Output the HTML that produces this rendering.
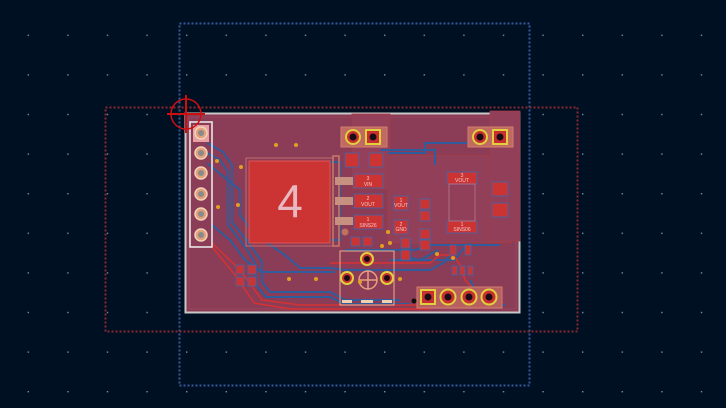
<!DOCTYPE html>
<html><head><style>html,body{margin:0;padding:0;background:#001023;}svg{display:block}</style></head>
<body>
<svg width="726" height="408" viewBox="0 0 726 408" xmlns="http://www.w3.org/2000/svg" font-family="Liberation Sans, sans-serif">
<defs>
<pattern id="g" width="39.6" height="39.6" patternUnits="userSpaceOnUse" x="-12" y="-5">
<rect x="0" y="0" width="1.4" height="1.4" fill="#7f8a99"/>
</pattern>
</defs>
<rect width="726" height="408" fill="#001023"/>
<rect width="726" height="408" fill="url(#g)"/>
<rect x="179.5" y="23.5" width="350" height="362" fill="none" stroke="#35599a" stroke-width="2" stroke-dasharray="2 2"/>
<rect x="105.5" y="107.5" width="472" height="224" fill="none" stroke="#8a2830" stroke-width="2" stroke-dasharray="2 2"/>
<rect x="185.5" y="113.5" width="334" height="199" fill="#8a3b55" stroke="#c8c8c8" stroke-width="2"/>
<rect x="189" y="117" width="327" height="192" fill="#8b3c56" stroke="#9a4660" stroke-width="1"/>
<rect x="352" y="114" width="38" height="75" fill="#94405a" stroke="#a63a44" stroke-width="0.8"/>
<rect x="388" y="155" width="123" height="88" fill="#92405a" stroke="#a63a44" stroke-width="0.8"/>
<rect x="490" y="111" width="30" height="130" fill="#92405a" stroke="#a63a44" stroke-width="0.8"/>
<g fill="none" stroke="#2e5c9c" stroke-width="2">
<polyline points="207,143 223,152 232,165 232,222 250,245 262,262 262,282 270,292 330,292 345,300 400,300"/>
<polyline points="207,153 220,160 228,172 228,225 246,248 256,265 256,285 266,297 330,297 345,304 410,304"/>
<polyline points="207,163 240,190 240,215 255,235 285,255 300,268 330,268 345,270 430,270 445,262 450,255"/>
<polyline points="212,225 230,240 245,260 262,272 335,272"/>
<polyline points="380,150 435,150 435,165"/>
<polyline points="388,153 425,153 425,143 468,143 480,143"/>
<polyline points="390,260 455,260 462,250 470,243"/>
<polyline points="410,240 410,258 420,260 438,250"/>
<polyline points="330,162 340,162 340,240 245,240"/>
<polyline points="470,280 478,296 490,305 505,305"/>
<polyline points="345,250 415,250 430,245 500,245"/>
</g>
<g fill="none" stroke="#d63232" stroke-width="1.5">
<polyline points="212,243 240,270 262,300 300,305 420,305"/>
<polyline points="212,247 236,276 254,303 290,309 430,309"/>
<polyline points="330,263 430,263 440,255 455,255"/>
<polyline points="455,257 460,265 465,280 475,290"/>
</g>
<rect x="190" y="122" width="22" height="125" fill="none" stroke="#f0f0f0" stroke-width="1.5"/>
<rect x="193" y="125" width="16" height="17" fill="#e8a0a0"/>
<g fill="#e3a07a" stroke="#f2d2b8" stroke-width="1.5">
<circle cx="201" cy="133" r="6"/><circle cx="201" cy="153" r="6"/><circle cx="201" cy="173" r="6"/><circle cx="201" cy="194" r="6"/><circle cx="201" cy="214" r="6"/><circle cx="201" cy="235" r="6"/>
</g>
<g fill="#8a8a8a"><circle cx="201" cy="133" r="3"/><circle cx="201" cy="153" r="3"/><circle cx="201" cy="173" r="3"/><circle cx="201" cy="194" r="3"/><circle cx="201" cy="214" r="3"/><circle cx="201" cy="235" r="3"/></g>
<rect x="249" y="161" width="81" height="82" fill="#cc3333" stroke="#e05555" stroke-width="1"/>
<rect x="246" y="158" width="87" height="88" fill="none" stroke="#c07070" stroke-width="1"/>
<text x="290" y="217" font-size="46" fill="#e8b8c0" text-anchor="middle">4</text>
<rect x="333" y="156" width="6" height="90" fill="none" stroke="#c87a6a" stroke-width="1.5"/>
<g fill="#c89080"><rect x="335" y="177" width="18" height="8"/><rect x="335" y="197" width="18" height="8"/><rect x="335" y="217" width="18" height="8"/></g>
<g fill="#cc3333" stroke="#3a6ab0" stroke-width="0.8">
<rect x="354" y="174" width="29" height="14"/><rect x="354" y="194" width="29" height="14"/><rect x="354" y="215" width="29" height="14"/>
<rect x="345" y="153" width="14" height="14"/><rect x="369" y="153" width="14" height="14"/>
<rect x="394" y="196" width="14" height="14"/><rect x="394" y="220" width="14" height="14"/>
<rect x="447" y="172" width="30" height="12"/><rect x="447" y="221" width="30" height="12"/>
<rect x="492" y="182" width="16" height="14"/><rect x="492" y="203" width="16" height="14"/>
<rect x="420" y="199" width="10" height="10"/><rect x="420" y="211" width="10" height="10"/><rect x="420" y="229" width="10" height="10"/><rect x="420" y="240" width="10" height="10"/>
<rect x="401" y="238" width="9" height="10"/><rect x="401" y="250" width="9" height="10"/>
<rect x="351" y="237" width="9" height="9"/><rect x="363" y="237" width="9" height="9"/>
<rect x="236" y="265" width="8" height="9"/><rect x="248" y="265" width="8" height="9"/><rect x="236" y="277" width="8" height="9"/><rect x="248" y="277" width="8" height="9"/>
<rect x="450" y="245" width="6" height="10"/><rect x="465" y="245" width="6" height="10"/><rect x="452" y="266" width="5" height="9"/><rect x="460" y="266" width="5" height="9"/><rect x="468" y="266" width="5" height="9"/>
</g>
<g fill="#f0c8c8" font-size="5" text-anchor="middle">
<text x="368" y="180">3</text><text x="368" y="186">VIN</text>
<text x="368" y="200">2</text><text x="368" y="206">VOUT</text>
<text x="368" y="221">1</text><text x="368" y="227">SINS26</text>
<text x="401" y="202">1</text><text x="401" y="207">VOUT</text>
<text x="401" y="226">2</text><text x="401" y="231">GND</text>
<text x="462" y="177">3</text><text x="462" y="182">VOUT</text>
<text x="462" y="226">1</text><text x="462" y="231">SINS06</text>
</g>
<rect x="449" y="184" width="26" height="37" fill="none" stroke="#b87890" stroke-width="0.8"/>
<rect x="341" y="127" width="46" height="20" fill="#c06a60" stroke="#d08070"/>
<rect x="468" y="127" width="45" height="20" fill="#c06a60" stroke="#d08070"/>
<rect x="417" y="287" width="85" height="21" fill="#b86060" stroke="#d08070"/>
<g stroke="#e0d040" stroke-width="2" fill="#c83030">
<circle cx="353" cy="137" r="7"/><circle cx="480" cy="137" r="7"/>
<circle cx="448" cy="297" r="7.5"/><circle cx="469" cy="297" r="7.5"/><circle cx="489" cy="297" r="7.5"/>
<circle cx="367" cy="259" r="6"/><circle cx="347" cy="278" r="6"/><circle cx="387" cy="278" r="6"/>
</g>
<g stroke="#e0d040" stroke-width="2" fill="#c83030"><rect x="366" y="130" width="14" height="14"/><rect x="493" y="130" width="14" height="14"/><rect x="421" y="290" width="14" height="14"/></g>
<g fill="#1a0d18"><circle cx="353" cy="137" r="3.5"/><circle cx="373" cy="137" r="3.5"/><circle cx="480" cy="137" r="3.5"/><circle cx="500" cy="137" r="3.5"/><circle cx="428" cy="297" r="3.5"/><circle cx="448" cy="297" r="3.5"/><circle cx="469" cy="297" r="3.5"/><circle cx="489" cy="297" r="3.5"/><circle cx="367" cy="259" r="3"/><circle cx="347" cy="278" r="3"/><circle cx="387" cy="278" r="3"/></g>
<rect x="340" y="251" width="54" height="54" fill="none" stroke="#e8b090" stroke-width="1"/>
<circle cx="368" cy="280" r="9" fill="none" stroke="#e8a080" stroke-width="1.5"/>
<line x1="359" y1="280" x2="377" y2="280" stroke="#e8a080" stroke-width="1.5"/><line x1="368" y1="271" x2="368" y2="289" stroke="#e8a080" stroke-width="1.5"/>
<g fill="#f0d0b0"><rect x="342" y="300" width="10" height="3"/><rect x="361" y="300" width="12" height="3"/><rect x="382" y="300" width="10" height="3"/></g>
<g fill="#e0a020">
<circle cx="276" cy="145" r="2"/><circle cx="296" cy="145" r="2"/><circle cx="217" cy="161" r="2"/><circle cx="241" cy="167" r="2"/><circle cx="218" cy="207" r="2"/><circle cx="238" cy="205" r="2"/><circle cx="289" cy="279" r="2"/><circle cx="316" cy="279" r="2"/><circle cx="388" cy="232" r="2"/><circle cx="382" cy="246" r="2"/><circle cx="390" cy="243" r="2"/><circle cx="437" cy="254" r="2"/><circle cx="360" cy="282" r="2"/><circle cx="400" cy="279" r="2"/><circle cx="453" cy="258" r="2"/>
</g>
<circle cx="345" cy="232" r="3.5" fill="#c07060"/>
<circle cx="414" cy="301" r="2.5" fill="#101010"/>
<circle cx="186" cy="114" r="15" fill="none" stroke="#cc1010" stroke-width="1.5"/>
<line x1="167" y1="114" x2="205" y2="114" stroke="#cc1010" stroke-width="2"/>
<line x1="186" y1="95" x2="186" y2="133" stroke="#cc1010" stroke-width="2"/>
</svg>
</body></html>
